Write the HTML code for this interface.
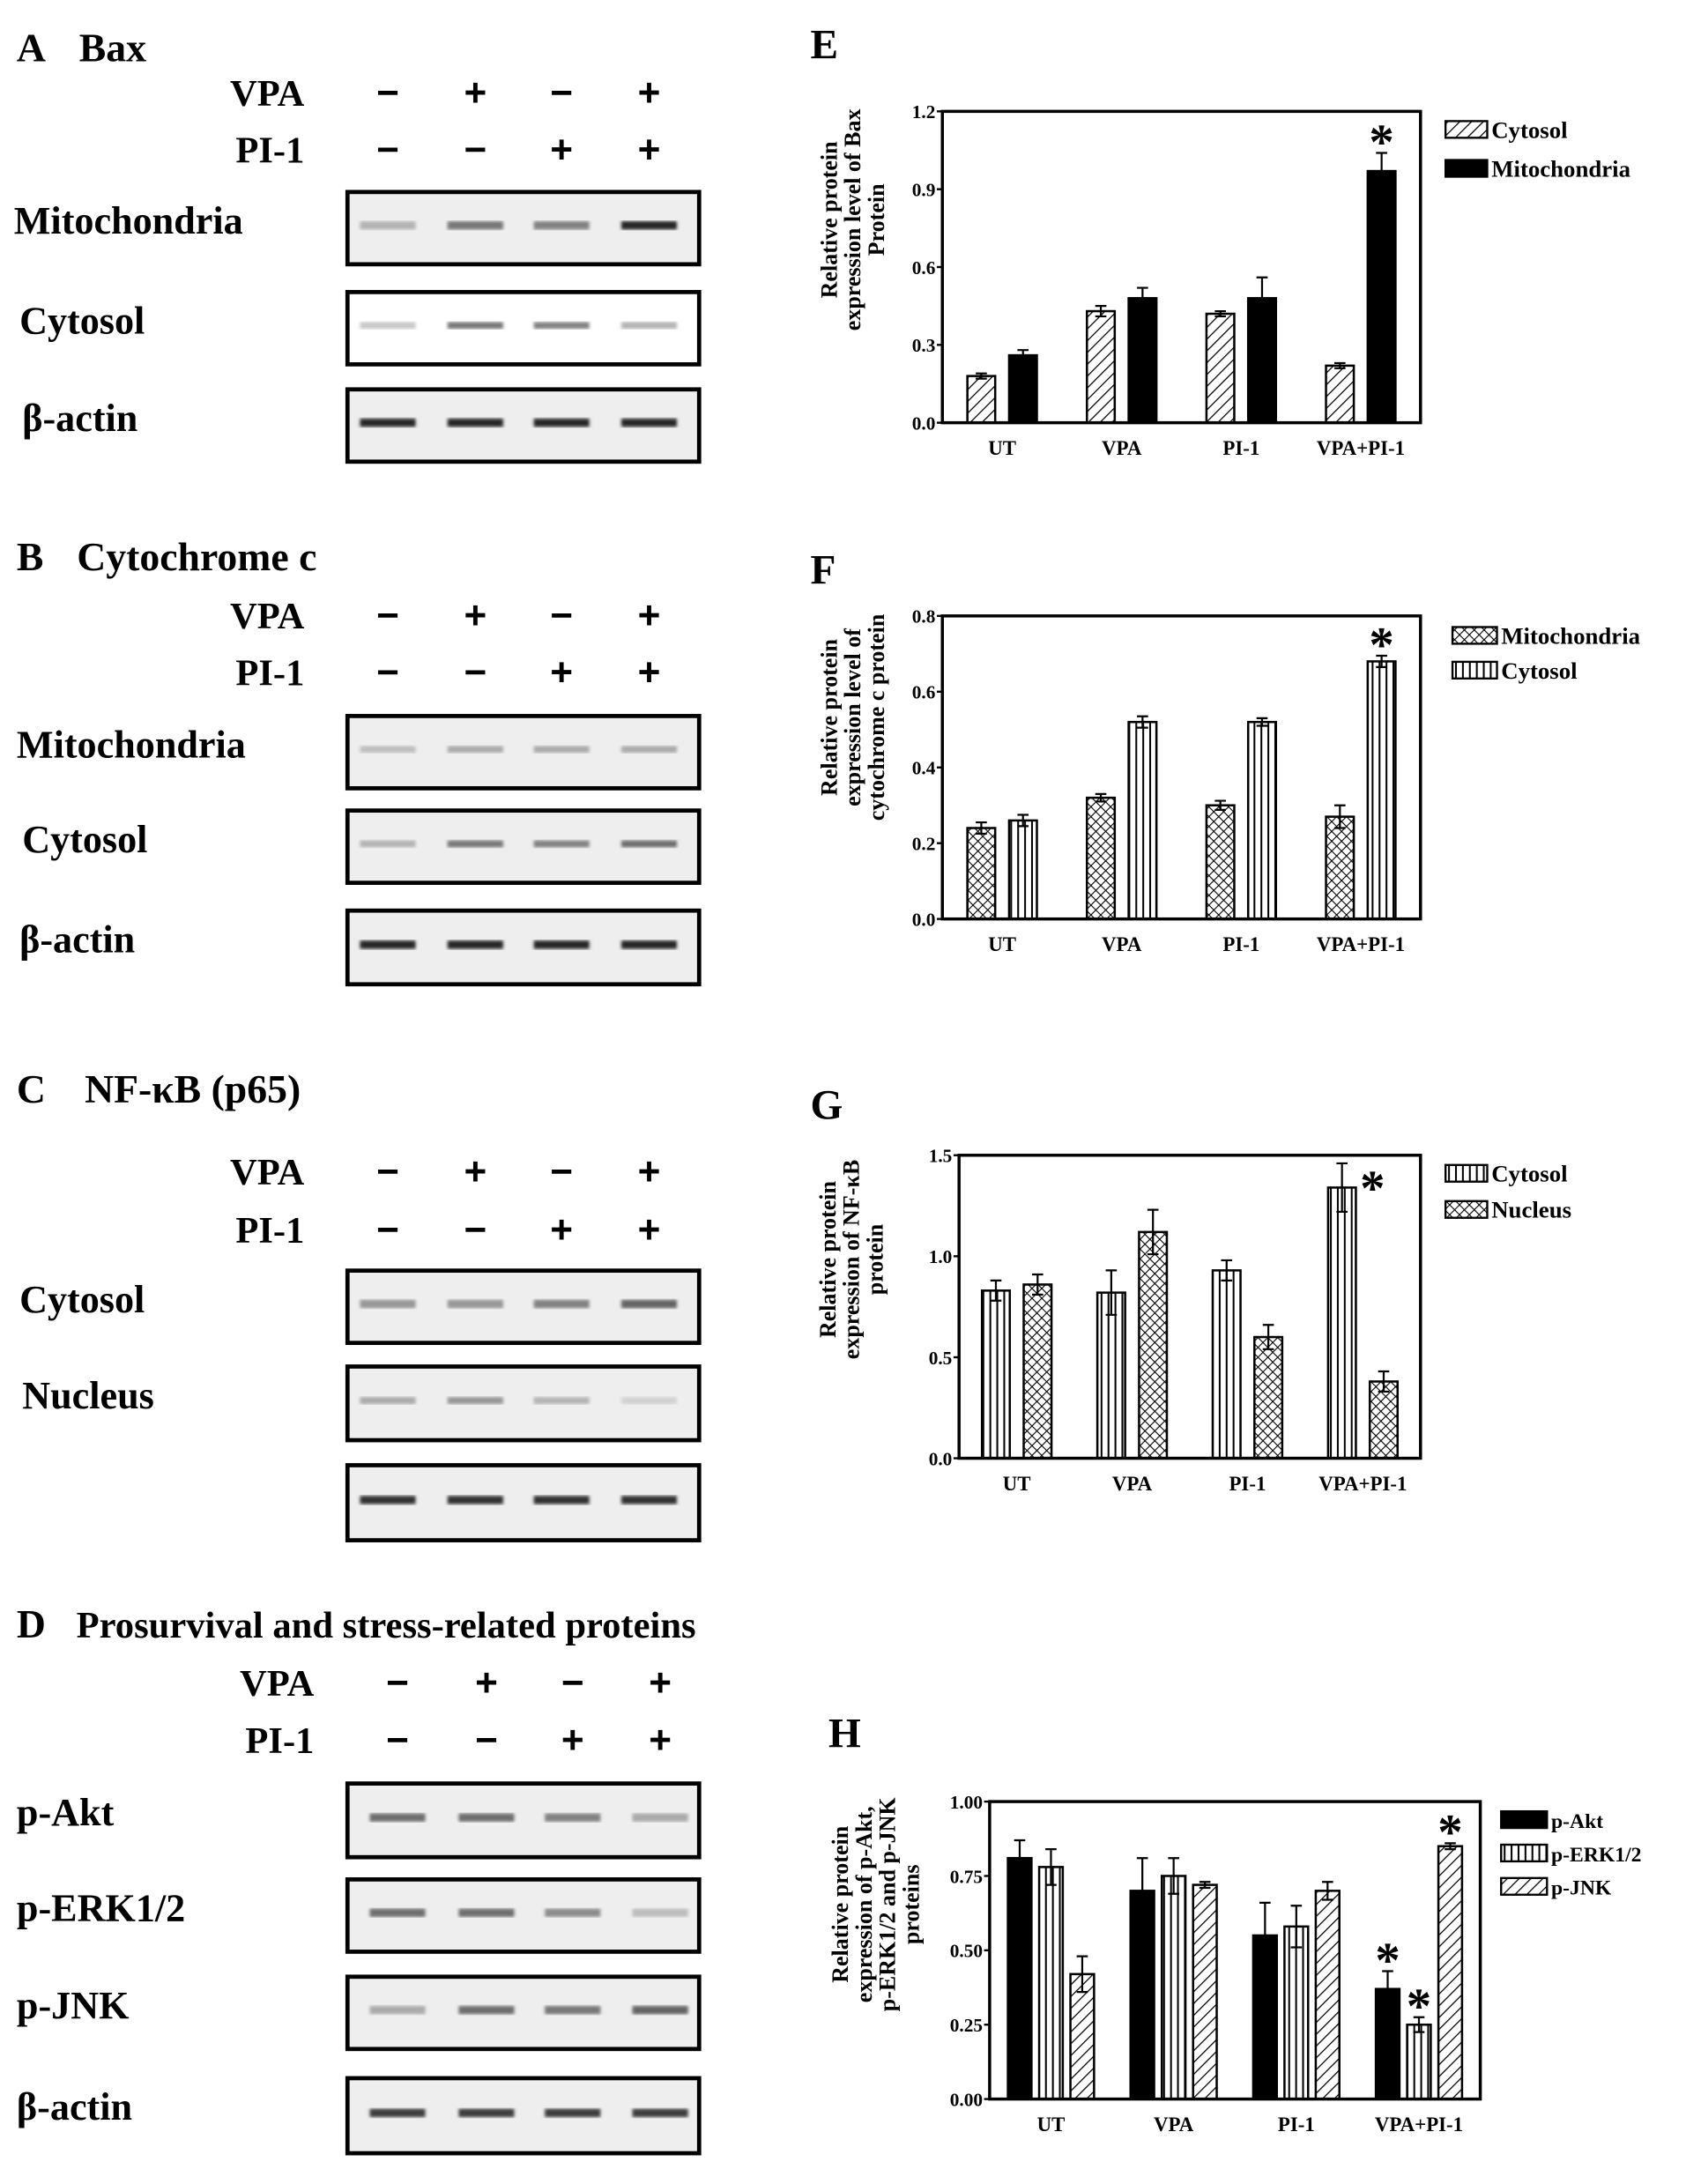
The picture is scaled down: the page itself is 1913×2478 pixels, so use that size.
<!DOCTYPE html>
<html><head><meta charset="utf-8"><style>
html,body{margin:0;padding:0;background:#fff}
svg{display:block;font-family:"Liberation Serif",serif;font-weight:bold}
</style></head><body>
<svg id="fig" width="1913" height="2478" viewBox="0 0 1213 1571" xmlns="http://www.w3.org/2000/svg">
<defs>
<pattern id="diag" patternUnits="userSpaceOnUse" width="6" height="6" patternTransform="rotate(45)"><rect width="6" height="6" fill="#fff"/><line x1="0" y1="0" x2="0" y2="6" stroke="#000" stroke-width="1.6"/></pattern>
<pattern id="vert" patternUnits="userSpaceOnUse" width="5" height="5"><rect width="5" height="5" fill="#fff"/><line x1="2.5" y1="0" x2="2.5" y2="5" stroke="#000" stroke-width="1.3"/></pattern>
<pattern id="cross" patternUnits="userSpaceOnUse" width="5" height="5" patternTransform="rotate(45)"><rect width="5" height="5" fill="#fff"/><line x1="0" y1="0" x2="0" y2="5" stroke="#000" stroke-width="1.4"/><line x1="0" y1="0" x2="5" y2="0" stroke="#000" stroke-width="1.4"/></pattern>
<filter id="blur"><feGaussianBlur stdDeviation="1.2"/></filter>
</defs>
<g id="blots"></g>
<g id="charts"></g>
</svg>
<script>
const NS="http://www.w3.org/2000/svg";
// ---- chart data ----
const categories=["UT","VPA","PI-1","VPA+PI-1"];
const eTicks=[0,0.3,0.6,0.9,1.2];
const eCytosol=[0.18,0.43,0.42,0.22];
const eCytosolErr=[0.01,0.02,0.01,0.01];
const eMito=[0.26,0.48,0.48,0.97];
const eMitoErr=[0.02,0.04,0.08,0.07];
const fTicks=[0,0.2,0.4,0.6,0.8];
const fMito=[0.24,0.32,0.30,0.27];
const fMitoErr=[0.015,0.01,0.012,0.03];
const fCytosol=[0.26,0.52,0.52,0.68];
const fCytosolErr=[0.015,0.015,0.01,0.015];
const gTicks=[0,0.5,1.0,1.5];
const gCytosol=[0.83,0.82,0.93,1.34];
const gCytosolErr=[0.05,0.11,0.05,0.12];
const gNucleus=[0.86,1.12,0.60,0.38];
const gNucleusErr=[0.05,0.11,0.06,0.05];
const hTicks=[0,0.25,0.5,0.75,1.0];
const hAkt=[0.81,0.70,0.55,0.37];
const hAktErr=[0.06,0.11,0.11,0.06];
const hErk=[0.78,0.75,0.58,0.25];
const hErkErr=[0.06,0.06,0.07,0.025];
const hJnk=[0.42,0.72,0.70,0.85];
const hJnkErr=[0.06,0.01,0.03,0.01];

function mk(tag,attrs,parent,text){const e=document.createElementNS(NS,tag);for(const k in attrs)e.setAttribute(k,attrs[k]);if(text!==undefined)e.textContent=text;parent.appendChild(e);return e;}

function chart(o){
  const root=document.getElementById('charts');
  const g=mk('g',{},root);
  
  
  const max=o.ticks[o.ticks.length-1];
  const y=v=>o.yb-(v/max)*(o.yb-o.yt);
  const band=(o.x1-o.x0)/categories.length;
  const xc=i=>o.x0+band*(i+0.5);
  const L=mk('text',{x:o.lx,y:o.ly,'font-size':30},g,o.letter);
  
  
  const n=o.series.length;
  o.series.forEach((s,si)=>{
    categories.forEach((c,i)=>{
      const cx=xc(i)+(si-(n-1)/2)*o.step;
      const v=s.vals[i],e=s.err[i];
      const r=mk('rect',{x:cx-o.bw/2,y:y(v),width:o.bw,height:o.yb-y(v),fill:s.fill,stroke:'#000','stroke-width':1.6},g);
      
      
      const eb=mk('path',{d:`M${cx} ${y(v)} V${y(v+e)} M${cx-4} ${y(v+e)} H${cx+4}`+(s.fill==='#000'?'':` M${cx} ${y(v)} V${y(v-e)} M${cx-4} ${y(v-e)} H${cx+4}`),stroke:'#000','stroke-width':1.4,fill:'none'},g);
      
      
    });
  });
  const fr=mk('rect',{x:o.x0,y:o.yt,width:o.x1-o.x0,height:o.yb-o.yt,fill:'none',stroke:'#000','stroke-width':2.2},g);
  
  
  o.ticks.forEach(t=>{
    mk('line',{x1:o.x0-4,x2:o.x0,y1:y(t),y2:y(t),stroke:'#000','stroke-width':1.5},g);
    const tl=mk('text',{x:o.x0-5,y:y(t)+5,'font-size':13.5,'text-anchor':'end'},g,t.toFixed(o.dec));
    
    
  });
  categories.forEach((c,i)=>{
    const t=mk('text',{x:xc(i)+(o.catOff||0),y:o.yb+23,'font-size':14.5,'text-anchor':'middle'},g,c);
    
    
  });
  const yt=mk('text',{transform:`translate(${o.tx},${o.ty}) rotate(-90)`,'font-size':16.5,'text-anchor':'middle'},g);
  
  
  o.title.forEach((ln,k)=>{mk('tspan',{x:0,y:k*17},yt,ln);});
  o.series.forEach((s,si)=>{
    const ly=o.legY+si*o.legStep;
    const lr=mk('rect',{x:o.legX,y:ly-7,width:o.legW,height:12,fill:s.fill,stroke:'#000','stroke-width':1.5},g);
    
    
    const lt=mk('text',{x:o.legX+o.legW+3,y:ly+5,'font-size':o.legFs},g,s.label);
    
    
  });
  o.stars.forEach(st=>{
    const s=o.series[st[0]];const i=st[1];
    const cx=xc(i)+(st[0]-(n-1)/2)*o.step+(st[2]||0);
    const v=s.vals[i]+s.err[i];
    const a=mk('text',{x:cx,y:y(v)+(st[3]||0),'font-size':36,'text-anchor':'middle'},g,'*');
    
    
  });
}

chart({name:'chart-e-bax',letter:'E',lx:583,ly:42,x0:678,x1:1022,yt:80,yb:304,ticks:eTicks,dec:1,bw:20,step:30,
  series:[{key:'cytosol',label:'Cytosol',vals:eCytosol,err:eCytosolErr,fill:'url(#diag)'},{key:'mitochondria',label:'Mitochondria',vals:eMito,err:eMitoErr,fill:'#000'}],
  tx:602,ty:158,title:['Relative protein','expression level of Bax','Protein'],legX:1040,legY:94,legStep:28,legW:30,legFs:17,stars:[[1,3,0,4]]});
chart({name:'chart-f-cytochrome-c',letter:'F',lx:583,ly:420,x0:678,x1:1022,yt:443,yb:661,ticks:fTicks,dec:1,bw:20,step:30,
  series:[{key:'mitochondria',label:'Mitochondria',vals:fMito,err:fMitoErr,fill:'url(#cross)'},{key:'cytosol',label:'Cytosol',vals:fCytosol,err:fCytosolErr,fill:'url(#vert)'}],
  tx:602,ty:516,title:['Relative protein','expression level of','cytochrome c protein'],legX:1045,legY:458,legStep:25,legW:32,legFs:17,stars:[[1,3,0,4]]});
chart({name:'chart-g-nfkb',letter:'G',lx:583,ly:805,x0:690,x1:1022,yt:831,yb:1049,ticks:gTicks,dec:1,bw:20,step:30,
  series:[{key:'cytosol',label:'Cytosol',vals:gCytosol,err:gCytosolErr,fill:'url(#vert)'},{key:'nucleus',label:'Nucleus',vals:gNucleus,err:gNucleusErr,fill:'url(#cross)'}],
  tx:601,ty:906,title:['Relative protein','expression  of NF-\u03baB','protein'],legX:1040,legY:845,legStep:26,legW:30,legFs:17,stars:[[0,3,22,30]]});
chart({name:'chart-h-prosurvival',letter:'H',lx:596,ly:1257,x0:712,x1:1065,yt:1296,yb:1510,ticks:hTicks,dec:2,bw:17,step:22.5,
  series:[{key:'p-akt',label:'p-Akt',vals:hAkt,err:hAktErr,fill:'#000'},{key:'p-erk',label:'p-ERK1/2',vals:hErk,err:hErkErr,fill:'url(#vert)'},{key:'p-jnk',label:'p-JNK',vals:hJnk,err:hJnkErr,fill:'url(#diag)'}],
  tx:610,ty:1370,title:['Relative protein','expression of p-Akt,','p-ERK1/2 and p-JNK','proteins'],legX:1080,legY:1310,legStep:24,legW:33,legFs:15,stars:[[0,3,0,4],[1,3,0,4],[2,3,0,4]]});

// ---- blots ----
const blotPanels=[
 {letter:'A',title:'Bax',ty:44,vpaY:76,piY:117,lanes:[279,342,404,467],bx0:250,bx1:503,
  rows:[{label:'Mitochondria',y:138,h:52,lx:10,d:[0.25,0.55,0.5,0.95],bh:6,fill:'#eee'},{label:'Cytosol',y:210,h:52,lx:14,d:[0.15,0.55,0.5,0.25],bh:5,fill:'#fff'},{label:'\u03b2-actin',y:280,h:52,lx:16,d:[0.95,0.95,0.95,0.95],bh:6,fill:'#eee'}]},
 {letter:'B',title:'Cytochrome c',ty:410,vpaY:452,piY:493,lanes:[279,342,404,467],bx0:250,bx1:503,
  rows:[{label:'Mitochondria',y:515,h:52,lx:12,d:[0.2,0.3,0.3,0.3],bh:5,fill:'#eee'},{label:'Cytosol',y:583,h:52,lx:16,d:[0.25,0.55,0.5,0.6],bh:5,fill:'#eee'},{label:'\u03b2-actin',y:655,h:53,lx:14,d:[0.95,0.95,0.95,0.95],bh:6,fill:'#eee'}]},
 {letter:'C',title:'NF-\u03baB (p65)',ty:793,vpaY:852,piY:894,lanes:[279,342,404,467],bx0:250,bx1:503,
  rows:[{label:'Cytosol',y:914,h:52,lx:14,d:[0.4,0.4,0.5,0.65],bh:6,fill:'#eee'},{label:'Nucleus',y:983,h:53,lx:16,d:[0.3,0.4,0.25,0.1],bh:5,fill:'#eee'},{label:'',y:1054,h:54,lx:16,d:[0.9,0.9,0.9,0.9],bh:6,fill:'#eee'}]},
 {letter:'D',title:'Prosurvival and stress-related proteins',ty:1178,vpaY:1220,piY:1261,lanes:[286,350,412,475],bx0:250,bx1:503,
  rows:[{label:'p-Akt',y:1283,h:53,lx:12,d:[0.6,0.6,0.5,0.3],bh:6,fill:'#eee'},{label:'p-ERK1/2',y:1352,h:52,lx:12,d:[0.6,0.6,0.45,0.2],bh:6,fill:'#eee'},{label:'p-JNK',y:1422,h:52,lx:12,d:[0.3,0.6,0.55,0.65],bh:6,fill:'#eee'},{label:'\u03b2-actin',y:1495,h:54,lx:12,d:[0.85,0.85,0.85,0.85],bh:6,fill:'#eee'}]}
];
const vpaSigns=['\u2212','+','\u2212','+'];
const piSigns=['\u2212','\u2212','+','+'];
const broot=document.getElementById('blots');
blotPanels.forEach((p,pi)=>{
  const g=mk('g',{},broot);
  
  
  const t=mk('text',{x:12,y:p.ty,'font-size':29},g);
  
  
  mk('tspan',{},t,p.letter);
  mk('tspan',{dx:p.letter==='D'?22:(p.letter==='C'?28:24),'font-size':p.letter==='D'?27:29},t,p.title);
  const v=mk('text',{x:p.lanes[0]-60,y:p.vpaY,'font-size':27,'text-anchor':'end'},g,'VPA');
  
  const pl=mk('text',{x:p.lanes[0]-60,y:p.piY,'font-size':27,'text-anchor':'end'},g,'PI-1');
  
  p.lanes.forEach((lx,i)=>{
    const a=mk('text',{x:lx,y:p.vpaY,'font-size':28,'text-anchor':'middle','font-family':'Liberation Sans, sans-serif','font-weight':'bold'},g,vpaSigns[i]);
    
    const b=mk('text',{x:lx,y:p.piY,'font-size':28,'text-anchor':'middle','font-family':'Liberation Sans, sans-serif','font-weight':'bold'},g,piSigns[i]);
    
  });
  p.rows.forEach(r=>{
    if(r.label){const l=mk('text',{x:r.lx,y:r.y+30,'font-size':28},g,r.label);
      }
    const box=mk('rect',{x:p.bx0,y:r.y,width:p.bx1-p.bx0,height:r.h,fill:r.fill,stroke:'#000','stroke-width':3},g);
    
    p.lanes.forEach((lx,i)=>{
      const c=Math.round(230-200*r.d[i]);
      const b=mk('rect',{x:lx-20,y:r.y+r.h/2-r.bh/2-2,width:40,height:r.bh,fill:`rgb(${c},${c},${c})`,filter:'url(#blur)'},g);
      
    });
  });
});
</script>
</body></html>
